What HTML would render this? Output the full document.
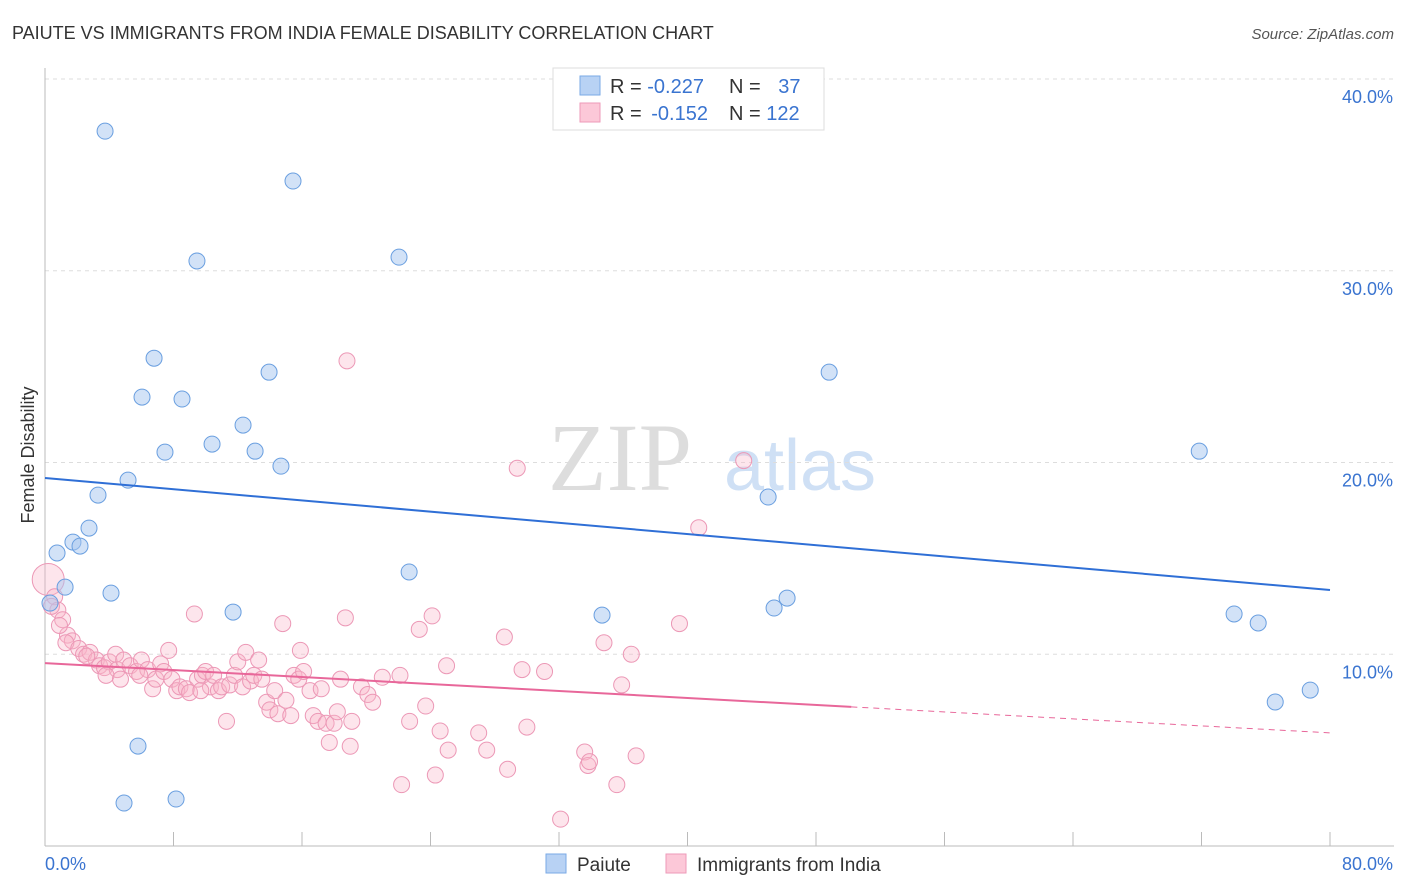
<!DOCTYPE html>
<html><head><meta charset="utf-8"><style>
body{margin:0;background:#fff;font-family:"Liberation Sans",sans-serif;}
svg{display:block}
</style></head><body>
<svg id="chart" width="1406" height="892">
<text x="12" y="39" font-size="18" fill="#333">PAIUTE VS IMMIGRANTS FROM INDIA FEMALE DISABILITY CORRELATION CHART</text>
<text x="1394" y="39" font-size="15" fill="#555" font-style="italic" text-anchor="end">Source: ZipAtlas.com</text>
<text x="620" y="490" font-size="96" fill="#ddd" font-family="Liberation Serif" text-anchor="middle">ZIP</text>
<text x="800" y="490" font-size="72" fill="#cfe0f5" text-anchor="middle">atlas</text>
<text transform="translate(34,455) rotate(-90)" font-size="18" fill="#333" text-anchor="middle">Female Disability</text>
<g id="grid"></g><g id="marks"></g>
<g>
<rect x="553" y="68" width="271" height="62" fill="#fff" stroke="#ddd"/>
<rect x="580" y="76" width="20" height="19" fill="#b8d2f4" stroke="#7aaae6"/>
<rect x="580" y="103" width="20" height="19" fill="#fcc8d8" stroke="#ee9ab8"/>
<text x="610" y="93" font-size="20" fill="#333">R = <tspan fill="#3a74d0">-0.227</tspan></text>
<text x="729" y="93" font-size="20" fill="#333">N = <tspan fill="#3a74d0" dx="12">37</tspan></text>
<text x="610" y="120" font-size="20" fill="#333">R = <tspan fill="#3a74d0" dx="4">-0.152</tspan></text>
<text x="729" y="120" font-size="20" fill="#333">N = <tspan fill="#3a74d0">122</tspan></text>
</g>
<g>
<rect x="546" y="854" width="20" height="19" fill="#b8d2f4" stroke="#7aaae6"/>
<text x="577" y="871" font-size="19" fill="#333">Paiute</text>
<rect x="666" y="854" width="20" height="19" fill="#fcc8d8" stroke="#ee9ab8"/>
<text x="697" y="871" font-size="19" fill="#333">Immigrants from India</text>
</g>
</svg>
<script>
const xTicks=[0,8,16,24,32,40,48,56,64,72,80];
const yTicks=[10,20,30,40];
const blueX=[3.74,15.44,9.46,22.04,6.79,13.95,6.04,8.53,12.33,10.40,7.47,13.08,14.69,5.17,3.30,2.74,1.74,2.18,0.75,1.25,4.11,0.31,11.71,22.67,48.82,71.86,45.02,45.39,46.20,34.68,74.03,75.53,76.59,78.77,5.79,4.92,8.16];
const blueY=[37.28,34.68,30.51,30.71,25.44,24.71,23.41,23.31,21.95,20.96,20.54,20.59,19.81,19.08,18.30,16.58,15.85,15.64,15.28,13.50,13.19,12.67,12.20,14.29,24.71,20.59,18.20,12.41,12.93,12.04,12.10,11.63,7.51,8.13,5.21,2.24,2.45];
const pinkX=[18.8,29.4,43.5,40.7,0.2,0.6,0.8,1.1,1.4,1.7,1.3,2.1,2.4,2.8,3.2,3.4,3.7,4.0,4.4,4.5,4.9,5.3,5.7,6.0,6.4,6.7,6.9,7.2,7.4,7.7,7.9,8.2,8.4,8.8,9.0,9.3,9.5,9.8,10.0,10.3,10.5,10.8,11.0,11.3,11.5,11.8,12.0,12.3,12.5,12.8,13.0,13.3,13.5,13.8,14.0,14.3,14.5,14.8,15.0,15.3,15.5,15.8,15.9,16.1,16.5,16.7,17.0,17.2,17.5,17.7,18.0,18.2,18.4,18.7,19.0,19.1,19.7,20.1,20.4,21.0,22.1,22.2,22.7,23.3,23.7,24.1,24.3,24.6,25.0,25.1,27.0,27.5,28.6,28.8,29.7,30.0,31.1,32.1,33.6,33.8,33.9,34.8,35.6,35.9,36.5,36.8,39.5,0.4,0.9,2.6,3.8,4.7,5.9,9.7];
const pinkY=[25.3,19.7,20.1,16.6,13.9,13.0,12.3,11.8,11.0,10.7,10.6,10.3,10.0,10.1,9.7,9.4,9.3,9.6,10.0,9.2,9.7,9.4,9.1,9.7,9.2,8.2,8.7,9.5,9.1,10.2,8.7,8.1,8.3,8.2,8.0,12.1,8.7,8.9,9.1,8.3,8.9,8.1,8.3,6.5,8.4,8.9,9.6,8.3,10.1,8.6,8.9,9.7,8.7,7.5,7.1,8.1,6.9,11.6,7.6,6.8,8.9,8.7,10.2,9.1,8.1,6.8,6.5,8.2,6.4,5.4,6.4,7.0,8.7,11.9,5.2,6.5,8.3,7.9,7.5,8.8,8.9,3.2,6.5,11.3,7.3,12.0,3.7,6.0,9.4,5.0,5.9,5.0,10.9,4.0,9.2,6.2,9.1,1.4,4.9,4.2,4.4,10.6,3.2,8.4,10.0,4.7,11.6,12.5,11.5,9.9,8.9,8.7,8.9,8.1];
const blueLine=[19.19,13.35];
const pinkLine=[9.54,5.9];
const pinkSolidEnd=50.2;
const NS="http://www.w3.org/2000/svg";
const X=v=>45+v*16.0625, Y=v=>846-v*19.175;
function mk(tag,attrs,parent){const e=document.createElementNS(NS,tag);for(const k in attrs)e.setAttribute(k,attrs[k]);parent.appendChild(e);return e;}
const grid=document.getElementById('grid'), marks=document.getElementById('marks');
yTicks.forEach(t=>{const l=mk('line',{x1:45,x2:1394,y1:Y(t),y2:Y(t),stroke:'#ddd','stroke-dasharray':'4,4'},grid);


const tx=mk('text',{x:1393,y:Y(t)+24,'font-size':18,fill:'#3a74d0','text-anchor':'end'},grid);tx.textContent=t.toFixed(1)+'%';

});
const ax=mk('line',{x1:45,x2:1394,y1:846,y2:846,stroke:'#bbb'},grid);


const ay=mk('line',{x1:45,x2:45,y1:68,y2:846,stroke:'#bbb'},grid);


xTicks.forEach(t=>{const l=mk('line',{x1:X(t),x2:X(t),y1:832,y2:846,stroke:'#bbb'},grid);

});
[[0,'start',45],[80,'end',1393]].forEach(([t,a,x])=>{const tx=mk('text',{x:x,y:870,'font-size':18,fill:'#3a74d0','text-anchor':a},grid);tx.textContent=t.toFixed(1)+'%';

});
pinkX.forEach((v,i)=>{const c=mk('circle',{cx:X(v),cy:Y(pinkY[i]),r:(i==4?16:8),fill:'rgba(248,180,200,0.35)',stroke:'#ec98b6','stroke-width':1},marks);

});
blueX.forEach((v,i)=>{const c=mk('circle',{cx:X(v),cy:Y(blueY[i]),r:8,fill:'rgba(165,198,240,0.5)',stroke:'#6a9fe0','stroke-width':1},marks);

});
const bl=mk('line',{x1:X(0),y1:Y(blueLine[0]),x2:X(80),y2:Y(blueLine[1]),stroke:'#2f6fd6','stroke-width':2},marks);


const py=t=>pinkLine[0]+(pinkLine[1]-pinkLine[0])*t/80;
const pl=mk('line',{x1:X(0),y1:Y(py(0)),x2:X(pinkSolidEnd),y2:Y(py(pinkSolidEnd)),stroke:'#e8679a','stroke-width':2},marks);


const pd=mk('line',{x1:X(pinkSolidEnd),y1:Y(py(pinkSolidEnd)),x2:X(80),y2:Y(py(80)),stroke:'#e8679a','stroke-width':1,'stroke-dasharray':'6,5'},marks);


</script>
</body></html>
